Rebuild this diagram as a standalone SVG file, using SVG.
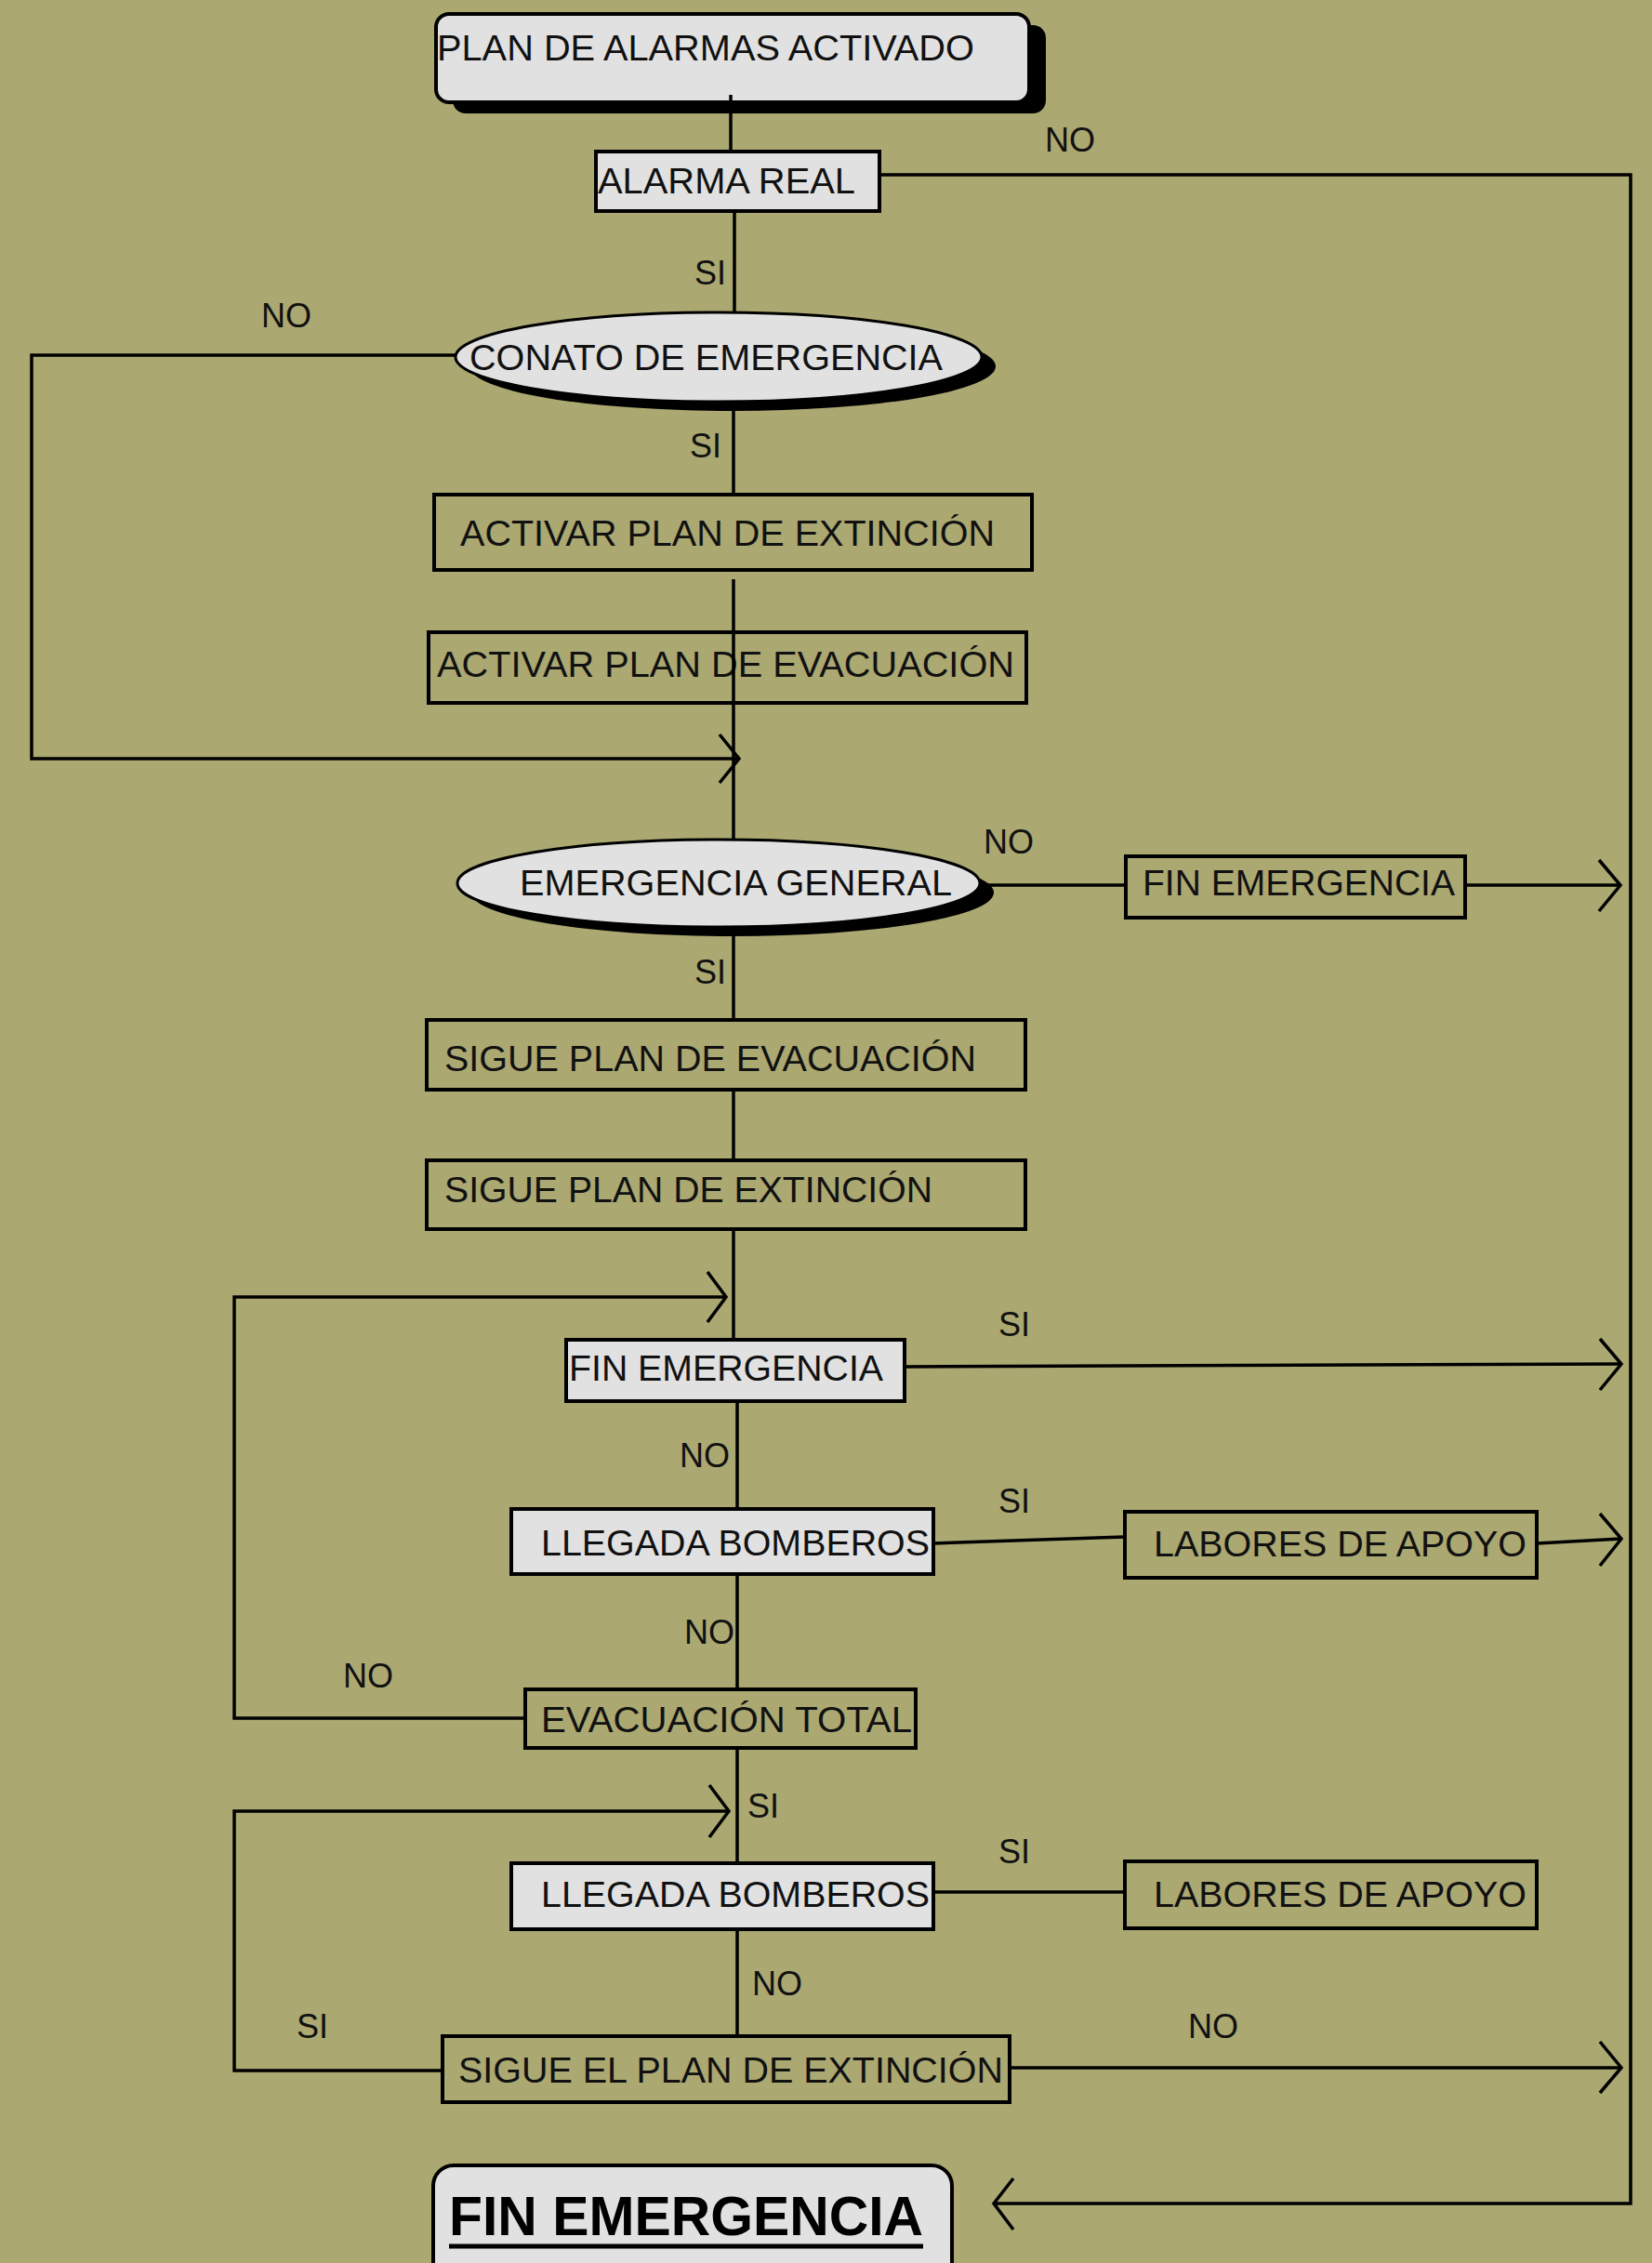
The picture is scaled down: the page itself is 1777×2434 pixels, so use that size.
<svg xmlns="http://www.w3.org/2000/svg" width="1777" height="2434" viewBox="0 0 1777 2434">
<defs>
<style>
.bx{stroke:#000;stroke-width:4;fill:none}
.lt{fill:#e1e1e1}
.sh{fill:#000}
.t{font-family:"Liberation Sans",Arial,sans-serif;font-size:39px;fill:#111}
.lbl{font-family:"Liberation Sans",Arial,sans-serif;font-size:36px;fill:#111}
.big{font-family:"Liberation Sans",Arial,sans-serif;font-size:60px;font-weight:bold;fill:#000}
.c{stroke:#000;stroke-width:3.5;fill:none}
.ar{stroke:#000;stroke-width:3.5;fill:none;stroke-linejoin:miter}
</style>
</defs>
<rect x="0" y="0" width="1777" height="2434" fill="#aba871"/>

<g id="n-plan">
<rect class="sh" x="487" y="27" width="638" height="95" rx="14"/>
<rect class="bx lt" x="469" y="15" width="638" height="95" rx="14"/>
<text class="t" x="470" y="65" textLength="578" lengthAdjust="spacingAndGlyphs">PLAN DE ALARMAS ACTIVADO</text>
</g>
<g id="n-alarma">
<rect class="bx lt" x="641" y="163" width="305" height="64"/>
<text class="t" x="643" y="208" textLength="277" lengthAdjust="spacingAndGlyphs">ALARMA REAL</text>
</g>
<g id="n-conato">
<ellipse class="sh" cx="788" cy="394" rx="283" ry="48"/>
<ellipse class="lt" cx="773" cy="384" rx="283" ry="48" stroke="#000" stroke-width="3"/>
<text class="t" x="505" y="398" textLength="509" lengthAdjust="spacingAndGlyphs">CONATO DE EMERGENCIA</text>
</g>
<g id="n-act-ext">
<rect class="bx" x="467" y="532" width="643" height="81"/>
<text class="t" x="495" y="587" textLength="575" lengthAdjust="spacingAndGlyphs">ACTIVAR PLAN DE EXTINCIÓN</text>
</g>
<g id="n-act-evac">
<rect class="bx" x="461" y="680" width="643" height="76"/>
<text class="t" x="470" y="728" textLength="621" lengthAdjust="spacingAndGlyphs">ACTIVAR PLAN DE EVACUACIÓN</text>
</g>
<g id="n-emerg-gen">
<ellipse class="sh" cx="788" cy="960" rx="281" ry="47"/>
<ellipse class="lt" cx="773" cy="950" rx="281" ry="47" stroke="#000" stroke-width="3"/>
<text class="t" x="559" y="963" textLength="465" lengthAdjust="spacingAndGlyphs">EMERGENCIA GENERAL</text>
</g>
<g id="n-fin1">
<rect class="bx" x="1211" y="921" width="365" height="66"/>
<text class="t" x="1229" y="963" textLength="336" lengthAdjust="spacingAndGlyphs">FIN EMERGENCIA</text>
</g>
<g id="n-sigue-evac">
<rect class="bx" x="459" y="1097" width="644" height="75"/>
<text class="t" x="478" y="1152" textLength="572" lengthAdjust="spacingAndGlyphs">SIGUE PLAN DE EVACUACIÓN</text>
</g>
<g id="n-sigue-ext">
<rect class="bx" x="459" y="1248" width="644" height="74"/>
<text class="t" x="478" y="1293" textLength="525" lengthAdjust="spacingAndGlyphs">SIGUE PLAN DE EXTINCIÓN</text>
</g>
<g id="n-fin2">
<rect class="bx lt" x="609" y="1441" width="364" height="66"/>
<text class="t" x="612" y="1485" textLength="338" lengthAdjust="spacingAndGlyphs">FIN EMERGENCIA</text>
</g>
<g id="n-llegada1">
<rect class="bx lt" x="550" y="1623" width="454" height="70"/>
<text class="t" x="582" y="1673" textLength="418" lengthAdjust="spacingAndGlyphs">LLEGADA BOMBEROS</text>
</g>
<g id="n-labores1">
<rect class="bx" x="1210" y="1626" width="443" height="71"/>
<text class="t" x="1241" y="1674" textLength="401" lengthAdjust="spacingAndGlyphs">LABORES DE APOYO</text>
</g>
<g id="n-evac-total">
<rect class="bx" x="565" y="1817" width="420" height="63"/>
<text class="t" x="582" y="1863" textLength="399" lengthAdjust="spacingAndGlyphs">EVACUACIÓN TOTAL</text>
</g>
<g id="n-llegada2">
<rect class="bx lt" x="550" y="2004" width="454" height="71"/>
<text class="t" x="582" y="2051" textLength="418" lengthAdjust="spacingAndGlyphs">LLEGADA BOMBEROS</text>
</g>
<g id="n-labores2">
<rect class="bx" x="1210" y="2002" width="443" height="72"/>
<text class="t" x="1241" y="2051" textLength="401" lengthAdjust="spacingAndGlyphs">LABORES DE APOYO</text>
</g>
<g id="n-sigue-el">
<rect class="bx" x="476" y="2190" width="610" height="71"/>
<text class="t" x="493" y="2240" textLength="586" lengthAdjust="spacingAndGlyphs">SIGUE EL PLAN DE EXTINCIÓN</text>
</g>
<g id="n-fin-final">
<rect class="bx lt" x="466" y="2329" width="558" height="150" rx="22"/>
<text class="big" x="483" y="2404" textLength="510" lengthAdjust="spacingAndGlyphs">FIN EMERGENCIA</text>
<line x1="483" y1="2416" x2="993" y2="2416" stroke="#000" stroke-width="5"/>
</g>

<g id="connectors">
<path class="c" d="M786 102 V163"/>
<path class="c" d="M947 188 H1754 V2370 H1069"/>
<polyline class="ar" points="1090,2343 1069,2370 1090,2398"/>
<path class="c" d="M790 227 V337"/>
<path class="c" d="M491 382 H34 V816 H795"/>
<polyline class="ar" points="774,790 795,816 774,842"/>
<path class="c" d="M789 437 V532"/>
<path class="c" d="M789 623 V902"/>
<path class="c" d="M1054 952 H1211"/>
<path class="c" d="M1576 952 H1743"/>
<polyline class="ar" points="1720,925 1743,952 1720,980"/>
<path class="c" d="M789 997 V1097"/>
<path class="c" d="M789 1172 V1248"/>
<path class="c" d="M789 1322 V1441"/>
<path class="c" d="M565 1848 H252 V1395 H781"/>
<polyline class="ar" points="761,1368 781,1395 761,1422"/>
<path class="c" d="M973 1470 L1744 1467"/>
<polyline class="ar" points="1721,1440 1744,1467 1721,1495"/>
<path class="c" d="M793 1507 V1623"/>
<path class="c" d="M1004 1660 L1210 1653"/>
<path class="c" d="M1653 1660 L1744 1655"/>
<polyline class="ar" points="1721,1628 1744,1655 1721,1684"/>
<path class="c" d="M793 1693 V1817"/>
<path class="c" d="M793 1880 V2004"/>
<path class="c" d="M476 2227 H252 V1948 H784"/>
<polyline class="ar" points="763,1920 784,1948 763,1976"/>
<path class="c" d="M1004 2035 H1210"/>
<path class="c" d="M793 2075 V2190"/>
<path class="c" d="M1086 2224 H1744"/>
<polyline class="ar" points="1721,2196 1744,2224 1721,2251"/>
</g>

<g id="labels">
<text class="lbl" x="1124" y="163">NO</text>
<text class="lbl" x="747" y="306">SI</text>
<text class="lbl" x="281" y="352">NO</text>
<text class="lbl" x="742" y="492">SI</text>
<text class="lbl" x="1058" y="918">NO</text>
<text class="lbl" x="747" y="1058">SI</text>
<text class="lbl" x="1074" y="1437">SI</text>
<text class="lbl" x="731" y="1578">NO</text>
<text class="lbl" x="1074" y="1627">SI</text>
<text class="lbl" x="736" y="1768">NO</text>
<text class="lbl" x="369" y="1815">NO</text>
<text class="lbl" x="804" y="1955">SI</text>
<text class="lbl" x="1074" y="2004">SI</text>
<text class="lbl" x="809" y="2146">NO</text>
<text class="lbl" x="319" y="2192">SI</text>
<text class="lbl" x="1278" y="2192">NO</text>
</g>
</svg>
